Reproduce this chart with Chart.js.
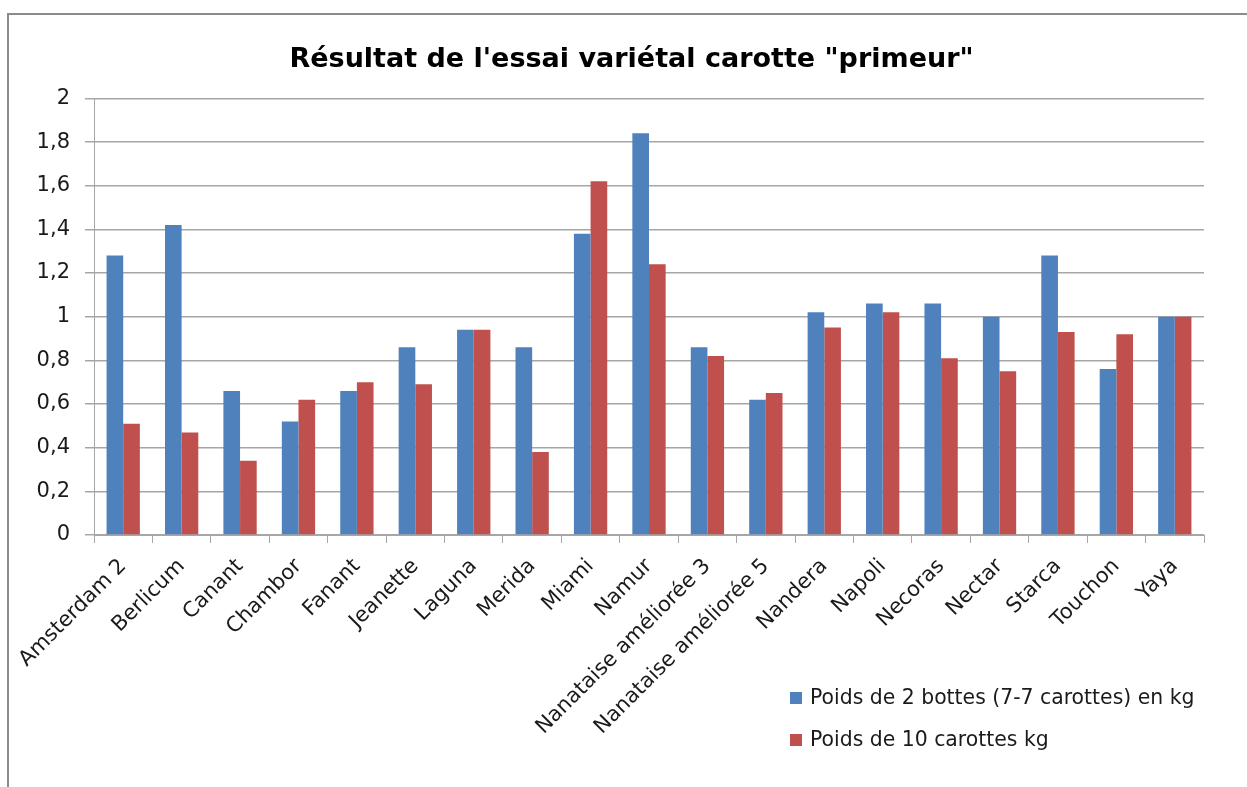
<!DOCTYPE html>
<html>
<head>
<meta charset="utf-8">
<script src="https://cdn.jsdelivr.net/npm/chart.js@4"></script>
<style>
  body { margin: 0; background: #fff; }
  #wrap { position: relative; width: 1247px; height: 787px; }
  #frame { position: absolute; left: 7px; top: 13px; width: 1300px; height: 900px;
           border-left: 2px solid #8c8c8c; border-top: 2px solid #8c8c8c; }
  canvas { position: absolute; left: 0; top: 0; }
</style>
</head>
<body>
<div id="wrap">
  <div id="frame"></div>
  <canvas id="chart-canvas" width="1247" height="787"></canvas>
</div>
<script>
let varieties = ["Amsterdam 2", "Berlicum", "Canant", "Chambor", "Fanant", "Jeanette", "Laguna",
    "Merida", "Miami", "Namur", "Nanataise améliorée 3", "Nanataise améliorée 5", "Nandera",
    "Napoli", "Necoras", "Nectar", "Starca", "Touchon", "Yaya"];
let bottes = [1.28, 1.42, 0.66, 0.52, 0.66, 0.86, 0.94, 0.86, 1.38, 1.84, 0.86, 0.62, 1.02,
    1.06, 1.06, 1.0, 1.28, 0.76, 1.0];
let carottes = [0.51, 0.47, 0.34, 0.62, 0.70, 0.69, 0.94, 0.38, 1.62, 1.24, 0.82, 0.65, 0.95,
    1.02, 0.81, 0.75, 0.93, 0.92, 1.0];
let seriesNames = ["Poids de 2 bottes (7-7 carottes) en kg", "Poids de 10 carottes kg"];
let seriesColors = ["#4f81bd", "#c0504d"];

const font = "'DejaVu Sans', sans-serif";
const gridColor = "#a6a6a6";

// legend sits in the empty corner under the bars, like the original sheet
const cornerLegend = {
    id: "cornerLegend",
    afterDraw(chart) {
        const ctx = chart.ctx;
        ctx.save();
        ctx.font = "20.4px " + font;
        ctx.textBaseline = "middle";
        chart.data.datasets.forEach((ds, i) => {
            const y = 698 + i * 42;
            ctx.fillStyle = ds.backgroundColor;
            ctx.fillRect(790, y - 6, 12, 12);
            ctx.fillStyle = "#1a1a1a";
            ctx.fillText(ds.label, 810, y + 1);
        });
        ctx.restore();
    },
};

new Chart("chart-canvas", {
    type: "bar",
    data: {
        labels: varieties,
        datasets: [
            { label: seriesNames[0], data: bottes, backgroundColor: seriesColors[0] },
            { label: seriesNames[1], data: carottes, backgroundColor: seriesColors[1] },
        ],
    },
    options: {
        responsive: false,
        animation: false,
        layout: { padding: { left: 16, right: 0, top: 0, bottom: 0 } },
        datasets: { bar: { categoryPercentage: 0.57, barPercentage: 1.0 } },
        scales: {
            x: {
                afterFit: (s) => { s.height = 252; },
                grid: { offset: true, drawOnChartArea: false, color: gridColor, tickLength: 8 },
                border: { color: gridColor },
                ticks: {
                    color: "#1a1a1a",
                    font: { family: font, size: 21 },
                    minRotation: 45,
                    maxRotation: 45,
                    autoSkip: false,
                    padding: 11,
                },
            },
            y: {
                min: 0,
                max: 2,
                afterFit: (s) => { s.width = 78; },
                grid: { color: gridColor, tickLength: 9, lineWidth: 1.5 },
                border: { color: gridColor },
                ticks: {
                    stepSize: 0.2,
                    color: "#1a1a1a",
                    font: { family: font, size: 21 },
                    padding: 15,
                    callback: (v) => String(Math.round(v * 10) / 10).replace(".", ","),
                },
            },
            // empty strip on the right so the plot stops where the original does
            blank: {
                type: "linear",
                position: "right",
                afterFit: (s) => { s.width = 43; },
                grid: { display: false },
                border: { display: false },
                ticks: { display: false },
            },
        },
        plugins: {
            legend: { display: false },
            tooltip: { enabled: false },
            title: {
                display: true,
                text: "Résultat de l'essai variétal carotte \"primeur\"",
                color: "#000",
                font: { family: font, size: 27, weight: "bold" },
                padding: { top: 44, bottom: 22 },
            },
        },
    },
    plugins: [cornerLegend],
});
</script>
</body>
</html>
